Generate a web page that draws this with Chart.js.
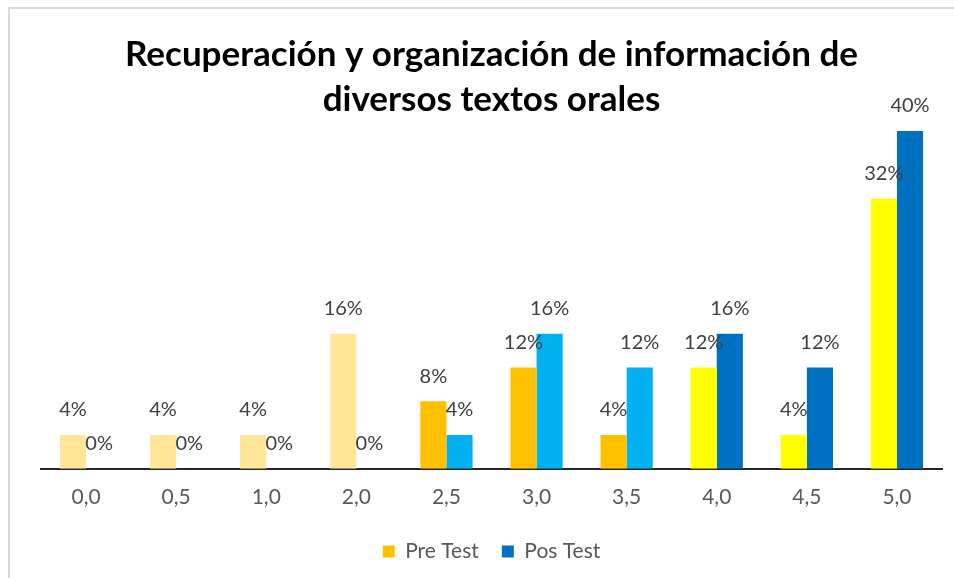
<!DOCTYPE html>
<html>
<head>
<meta charset="utf-8">
<script src="https://cdn.jsdelivr.net/npm/chart.js@4.4.1/dist/chart.umd.min.js"></script>
<style>
    body { margin: 0; background: #fff; }
    #frame {
        position: absolute; left: 8px; top: 7px; width: 960px; height: 590px;
        border-left: 2px solid #d9d9d9; border-top: 2px solid #d9d9d9;
    }
    #wrap { position: absolute; left: 0; top: 0; width: 954px; height: 578px; }
</style>
</head>
<body>
<div id="frame"></div>
<div id="wrap"><canvas id="chart"></canvas></div>
<script>
// Chart data
const categories = ['0,0', '0,5', '1,0', '2,0', '2,5', '3,0', '3,5', '4,0', '4,5', '5,0'];
const preTest = [4, 4, 4, 16, 8, 12, 4, 12, 4, 32];
const posTest = [0, 0, 0, 0, 4, 16, 12, 16, 12, 40];
const preColors = ['#FFE699', '#FFE699', '#FFE699', '#FFE699', '#FFC000', '#FFC000', '#FFC000', '#FFFF00', '#FFFF00', '#FFFF00'];
const posColors = ['#00B0F0', '#00B0F0', '#00B0F0', '#00B0F0', '#00B0F0', '#00B0F0', '#00B0F0', '#0070C0', '#0070C0', '#0070C0'];
const legendColors = ['#FFC000', '#0070C0'];

const fontFamily = 'Lato, "Open Sans", sans-serif';

// Draw value labels above bars
const valueLabels = {
    id: 'valueLabels',
    afterDatasetsDraw(chart) {
        const ctx = chart.ctx;
        ctx.save();
        ctx.font = '20px ' + fontFamily;
        ctx.fillStyle = '#404040';
        ctx.textAlign = 'center';
        ctx.textBaseline = 'middle';
        chart.data.datasets.forEach((ds, i) => {
            chart.getDatasetMeta(i).data.forEach((bar, j) => {
                ctx.fillText(ds.data[j] + '%', bar.x, bar.y - 25);
            });
        });
        ctx.restore();
    }
};

new Chart(document.getElementById('chart'), {
    type: 'bar',
    data: {
        labels: categories,
        datasets: [
            { label: 'Pre Test', data: preTest, backgroundColor: preColors },
            { label: 'Pos Test', data: posTest, backgroundColor: posColors }
        ]
    },
    options: {
        responsive: true,
        maintainAspectRatio: false,
        animation: false,
        layout: { padding: { left: 41, right: 12, top: 0, bottom: 6 } },
        datasets: { bar: { categoryPercentage: 0.58, barPercentage: 1.0 } },
        scales: {
            x: {
                grid: { display: false },
                border: { display: true, color: '#262626', width: 2 },
                ticks: { color: '#595959', font: { family: fontFamily, size: 21 }, padding: 8 }
            },
            y: {
                display: false,
                min: 0,
                max: 40
            }
        },
        plugins: {
            title: {
                display: true,
                text: ['Recuperación y organización de información de', 'diversos textos orales'],
                color: '#000',
                font: { family: fontFamily, size: 35, weight: 'bold', lineHeight: 1.286 },
                padding: { top: 32, bottom: 9 }
            },
            legend: {
                position: 'bottom',
                labels: {
                    color: '#595959',
                    font: { family: fontFamily, size: 21 },
                    boxWidth: 12,
                    boxHeight: 12,
                    padding: 23,
                    generateLabels(chart) {
                        const items = Chart.defaults.plugins.legend.labels.generateLabels(chart);
                        items.forEach((item, i) => {
                            item.fillStyle = legendColors[i];
                            item.strokeStyle = legendColors[i];
                            item.lineWidth = 0;
                        });
                        return items;
                    }
                }
            },
            tooltip: { enabled: false }
        }
    },
    plugins: [valueLabels]
});
</script>
</body>
</html>
